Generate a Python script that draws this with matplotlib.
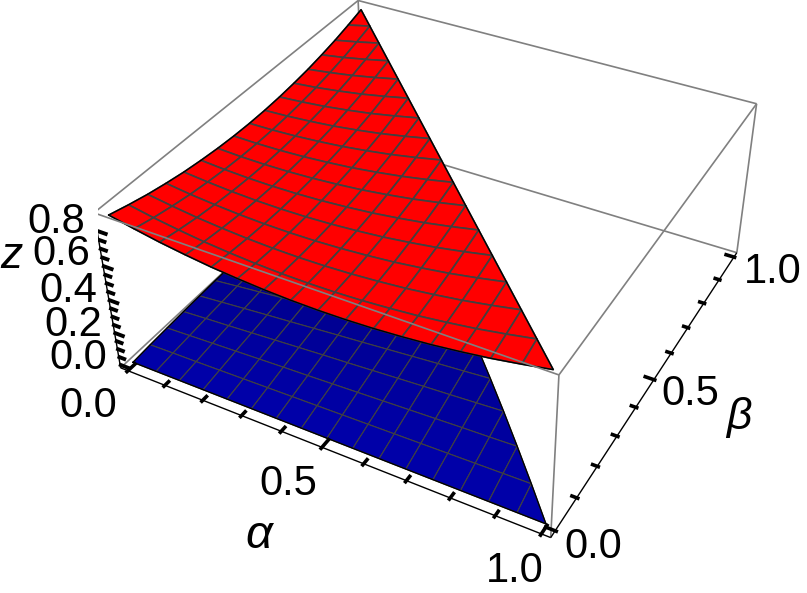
import numpy as np
import matplotlib
matplotlib.use('Agg')
import matplotlib.pyplot as plt
from mpl_toolkits.mplot3d.art3d import Poly3DCollection

W, H = 807, 593
plt.rcParams['font.family'] = ['Liberation Sans', 'DejaVu Sans']

##########################################################################
# data
##########################################################################
grid = [0.0, 0.0625, 0.125, 0.1875, 0.25, 0.3125, 0.375, 0.4375, 0.5,
        0.5625, 0.625, 0.6875, 0.75, 0.8125, 0.875, 0.9375, 1.0]

# red sheet only changes with alpha + beta, one value per grid step of the sum
red_levels = [0.875, 0.846, 0.820, 0.799, 0.781, 0.768, 0.758, 0.752, 0.750,
              0.752, 0.758, 0.768, 0.781, 0.799, 0.820, 0.846, 0.875]

# blue sheet, one row per alpha, beta runs along the row
blue_z = [
    [0.000, 0.008, 0.014, 0.020, 0.024, 0.028, 0.030, 0.032, 0.033, 0.032, 0.030, 0.028, 0.024, 0.020, 0.014, 0.008, 0.000],
    [0.000, 0.011, 0.020, 0.029, 0.036, 0.043, 0.048, 0.052, 0.056, 0.058, 0.060, 0.060, 0.060, 0.058, 0.055, 0.052],
    [0.000, 0.013, 0.026, 0.037, 0.048, 0.057, 0.066, 0.073, 0.079, 0.085, 0.089, 0.092, 0.095, 0.096, 0.096],
    [0.000, 0.016, 0.032, 0.046, 0.060, 0.072, 0.083, 0.094, 0.103, 0.111, 0.118, 0.125, 0.130, 0.134],
    [0.000, 0.019, 0.038, 0.055, 0.071, 0.087, 0.101, 0.114, 0.126, 0.137, 0.148, 0.157, 0.165],
    [0.000, 0.022, 0.044, 0.064, 0.083, 0.101, 0.118, 0.135, 0.150, 0.164, 0.177, 0.189],
    [0.000, 0.025, 0.049, 0.073, 0.095, 0.116, 0.136, 0.155, 0.173, 0.190, 0.206],
    [0.000, 0.028, 0.055, 0.081, 0.106, 0.130, 0.154, 0.176, 0.197, 0.217],
    [0.000, 0.031, 0.061, 0.090, 0.118, 0.145, 0.171, 0.196, 0.220],
    [0.000, 0.034, 0.067, 0.099, 0.130, 0.160, 0.189, 0.217],
    [0.000, 0.037, 0.073, 0.108, 0.142, 0.174, 0.206],
    [0.000, 0.040, 0.079, 0.116, 0.153, 0.189],
    [0.000, 0.043, 0.085, 0.125, 0.165],
    [0.000, 0.046, 0.090, 0.134],
    [0.000, 0.049, 0.096],
    [0.000, 0.052],
    [0.000],
]

ab_ticks = [0.0, 0.1, 0.2, 0.3, 0.4, 0.5, 0.6, 0.7, 0.8, 0.9, 1.0]
z_ticks = [0.0, 0.05, 0.1, 0.15, 0.2, 0.25, 0.3, 0.35, 0.4, 0.45, 0.5, 0.55, 0.6, 0.65, 0.7, 0.75, 0.8]
z_labels = ['0.8', '0.6', '0.4', '0.2', '0.0']

n = len(grid) - 1
red_z = [[red_levels[i + j] for j in range(n + 1 - i)] for i in range(n + 1)]

lo, hi, zlo, zhi = -0.02, 1.02, -0.02, 0.9

##########################################################################
# helpers
##########################################################################
fig = plt.figure(figsize=(W/100, H/100), dpi=100)
ax = fig.add_axes([0, 0, 1, 1], projection='3d', computed_zorder=False)
ax.set_axis_off()
ax.patch.set_visible(False)

def cells(z):
    polys = []
    for i in range(n):
        for j in range(n - i):
            p = [(grid[i], grid[j], z[i][j]), (grid[i+1], grid[j], z[i+1][j])]
            if i + j + 2 <= n:
                p.append((grid[i+1], grid[j+1], z[i+1][j+1]))
            p.append((grid[i], grid[j+1], z[i][j+1]))
            polys.append(p)
    return polys

def outline(z, zo):
    xs = [grid[i] for i in range(n + 1)] + [grid[i] for i in range(n, -1, -1)] + [0.0]*(n + 1)
    ys = [0.0]*(n + 1) + [grid[n - i] for i in range(n, -1, -1)] + [grid[n - i] for i in range(n + 1)]
    zs = [z[i][0] for i in range(n + 1)] + [z[i][n - i] for i in range(n, -1, -1)] + [z[0][n - i] for i in range(n + 1)]
    ax.plot(xs, ys, zs, color='black', lw=1.0, zorder=zo)

def edge(a, b, c='#808080', zo=1, lw=1.2):
    ax.plot([a[0], b[0]], [a[1], b[1]], [a[2], b[2]], color=c, lw=lw, zorder=zo, solid_capstyle='butt')

def label(x, y, s, size=30, **kw):
    fig.text(x/W, 1 - y/H, s, fontsize=size, ha='center', va='baseline', color='black', **kw)

##########################################################################
# sheets
##########################################################################
blue_polys = cells(blue_z)
blue_cols = [(0, 0, 0.67 - 0.2*np.mean([q[1] for q in p])/0.6) for p in blue_polys]
blue = Poly3DCollection(blue_polys, facecolors=blue_cols, edgecolors='#404040', linewidths=0.8, zorder=3)
ax.add_collection3d(blue)
outline(blue_z, 3.5)

red = Poly3DCollection(cells(red_z), facecolors='#ff0000', edgecolors='#404040', linewidths=1.2, zorder=5)
ax.add_collection3d(red)
outline(red_z, 5.5)

##########################################################################
# box and axes
##########################################################################
edge((lo, lo, zlo), (lo, hi, zlo))
edge((lo, hi, zlo), (hi, hi, zlo))
edge((lo, hi, zlo), (lo, hi, zhi))
edge((lo, lo, zhi), (lo, hi, zhi))
edge((lo, hi, zhi), (hi, hi, zhi))
edge((hi, hi, zhi), (hi, hi, zlo))
edge((hi, lo, zhi), (hi, hi, zhi))
edge((hi, lo, zlo), (hi, lo, zhi))
# this one runs over the red sheet
edge((lo, lo, zhi), (hi, lo, zhi), zo=6)
edge((lo, lo, zlo), (hi, lo, zlo), c='black', zo=7, lw=1.0)
edge((hi, lo, zlo), (hi, hi, zlo), c='black', zo=7, lw=1.0)
edge((lo, lo, zlo), (lo, lo, zhi), c='black', zo=7, lw=1.0)

for k, t in enumerate(ab_ticks):
    L = 0.03 if k % 5 == 0 else 0.018
    edge((t, lo - 0.008, zlo), (t, lo + L, zlo), c='black', zo=8, lw=2.6)
    L = 0.024 if k % 5 == 0 else 0.014
    edge((hi - L, t, zlo), (hi + 0.006, t, zlo), c='black', zo=8, lw=2.6)
for k, t in enumerate(z_ticks):
    L = 0.027 if k % 4 == 0 else 0.02
    edge((lo - 0.003, lo, t), (lo + L, lo, t), c='black', zo=8, lw=2.8)

ax.set_xlim(lo, hi)
ax.set_ylim(lo, hi)
ax.set_zlim(zlo, zhi)
ax.view_init(36.4058, -60.9755, 0.4835)
ax.set_proj_type('persp', focal_length=0.4289)
ax.set_box_aspect((1, 0.9924, 0.4008))

# place the axes so the box lands where it does in the picture
a, tx, ty = 3617.249, 441.99, 358.61
vl = ax.viewLim
S = a * vl.width
ax.set_position([(tx + a*vl.x0)/W, (ty + a*vl.y0)/H, S/W, S/H])

##########################################################################
# text
##########################################################################
for s, (x, y) in zip(z_labels, [(56, 233), (61, 265), (68, 302), (73, 336), (78, 369)]):
    label(x, y, s)
label(88, 417, '0.0'); label(288, 495, '0.5'); label(515, 582, '1.0')
label(593, 558, '0.0'); label(690, 405, '0.5'); label(773, 283, '1.0')
label(259, 548, 'α', size=34, style='italic')
label(739, 429, 'β', size=32, style='italic')
label(11, 268, 'z', size=32, style='italic')

fig.savefig('out.png', dpi=100)
